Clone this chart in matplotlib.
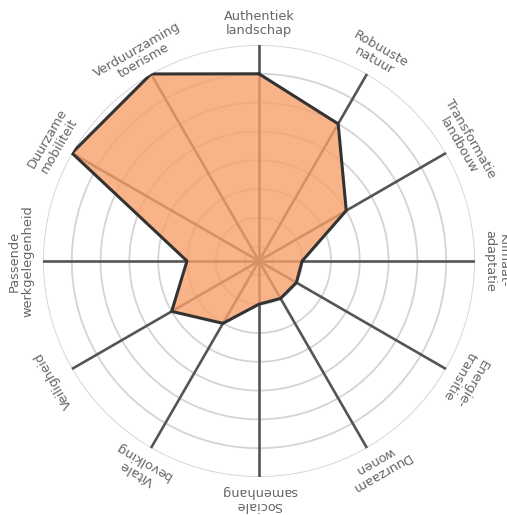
import numpy as np
import matplotlib
matplotlib.use("Agg")
import matplotlib.pyplot as plt

categories = ["Authentiek\nlandschap", "Robuuste\nnatuur", "Transformatie\nlandbouw",
              "Klimaat-\nadaptatie", "Energie-\ntransitie", "Duurzaam\nwonen",
              "Sociale\nsamenhang", "Vitale\nbevolking", "Veiligheid",
              "Passende\nwerkgelegenheid", "Duurzame\nmobiliteit", "Verduurzaming\ntoerisme"]
values = [6, 5, 3, 1, 1, 1, 1, 2, 3, 2, 7, 7]
ring_levels = [0, 1, 2, 3, 4, 5, 6, 7]
r_min, r_max = -0.5, 7

plt.rcParams['font.family'] = ['DejaVu Sans']

fig = plt.figure(figsize=(5.07, 5.15), dpi=100)
ax = fig.add_axes([0.0848, 0.0738, 0.852, 0.8388], projection='polar')
ax.set_theta_zero_location('N')
ax.set_theta_direction(-1)
ax.set_ylim(r_min, r_max)
ax.set_xticks([])
ax.set_yticks([])
ax.grid(False)
ax.spines['polar'].set_visible(False)

n = len(categories)
angles = np.arange(n) * 2 * np.pi / n

# rings
t = np.linspace(0, 2 * np.pi, 400)
for lv in ring_levels:
    ax.plot(t, np.full_like(t, lv), color='#d4d4d4', lw=1.3, zorder=1)

# spokes
for a in angles:
    ax.plot([a, a], [r_min, r_max], color='#555555', lw=1.9, zorder=2)

# polygon
va = list(values) + [values[0]]
aa = list(angles) + [angles[0]]
ax.fill(aa, va, color='#F8A06A', alpha=0.8, zorder=3, lw=0)
ax.plot(aa, va, color='#333333', lw=2.2, zorder=4)

# labels
for a, lab in zip(angles, categories):
    deg = np.degrees(a)
    rot = -deg
    ax.text(a, 7.75, lab, rotation=rot, rotation_mode='anchor',
            ha='center', va='center', fontsize=9.3, color='#666666',
            linespacing=1.05, clip_on=False)

fig.savefig('out.png', dpi=100)
